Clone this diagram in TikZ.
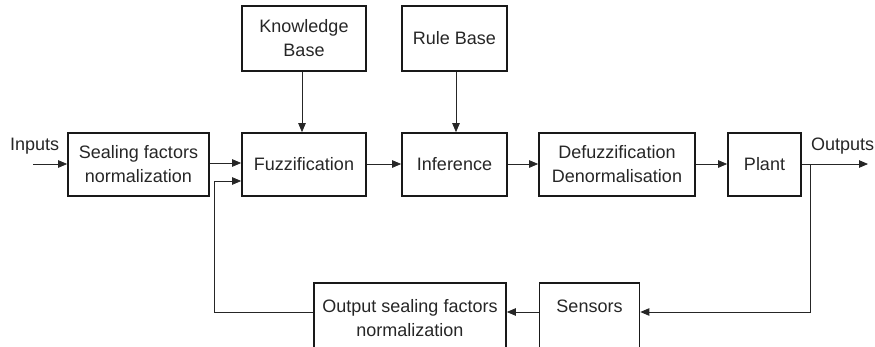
\documentclass[tikz,border=0pt]{standalone}
\usepackage{fontspec}
\setmainfont{Liberation Sans}
\usetikzlibrary{arrows.meta}
\begin{document}
\begin{tikzpicture}[x=1pt,y=-1pt,
  blk/.style={draw=black!90, line width=1.7pt, inner sep=0pt, align=center,
    font=\fontsize{18}{24}\selectfont, text=black!85},
  lbl/.style={inner sep=0pt, font=\fontsize{18}{24}\selectfont, text=black!85},
  conn/.style={draw=black!85, line width=0.8pt, -{Triangle[length=9pt,width=7.5pt]}},
  wire/.style={draw=black!85, line width=0.8pt}]
\useasboundingbox (0,0) rectangle (875,346);
\clip (0,0) rectangle (875,346);
% top row
\node[blk, minimum width=124pt, minimum height=65pt] (kb) at (304,38.5) {Knowledge\\Base};
\node[blk, minimum width=105pt, minimum height=65pt] (rb) at (454.5,38.5) {Rule Base};
% middle row
\node[blk, minimum width=141pt, minimum height=63pt] (sf) at (138.5,164.5) {Sealing factors\\normalization};
\node[blk, minimum width=124pt, minimum height=63pt] (fz) at (304,164.5) {Fuzzification};
\node[blk, minimum width=105pt, minimum height=63pt] (inf) at (454.5,164.5) {Inference};
\node[blk, minimum width=156pt, minimum height=63pt] (dz) at (617,164.5) {Defuzzification\\Denormalisation};
\node[blk, minimum width=73pt, minimum height=63pt] (pl) at (764.5,164.5) {Plant};
% bottom row
\node[blk, minimum width=192pt, minimum height=70pt] (osf) at (410,318) {Output sealing factors\\normalization};
\node[blk, minimum width=100pt, minimum height=70pt] (sen) at (589.5,318) {Sensors\\\phantom{S}};
% labels
\node[lbl, anchor=west] (inlbl) at (10,146) {Inputs};
\node[lbl, anchor=west] (outlbl) at (811,146) {Outputs};
% coordinates
\coordinate (in) at (33,164);
\coordinate (out) at (868,164);
\coordinate (tap) at (810,164);
\coordinate (tapd) at (810,312);
\coordinate (fbl) at (214,312);
\coordinate (fbu) at (214,181);
% connectors
\draw[conn] (in) -- (sf.west |- in);
\draw[conn] (sf.east |- 0,163) -- (fz.west |- 0,163);
\draw[conn] (fz.east |- 0,164) -- (inf.west |- 0,164);
\draw[conn] (inf.east |- 0,164) -- (dz.west |- 0,164);
\draw[conn] (dz.east |- 0,164) -- (pl.west |- 0,164);
\draw[conn] (pl.east |- out) -- (out);
\draw[conn] (kb.south -| 302,0) -- (fz.north -| 302,0);
\draw[conn] (rb.south -| 456,0) -- (inf.north -| 456,0);
\draw[conn] (tap) -- (tapd) -- (sen.east |- tapd);
\draw[conn] (sen.west |- 0,312) -- (osf.east |- 0,312);
\draw[conn] (osf.west |- fbl) -- (fbl) -- (fbu) -- (fz.west |- fbu);
\end{tikzpicture}
\end{document}
